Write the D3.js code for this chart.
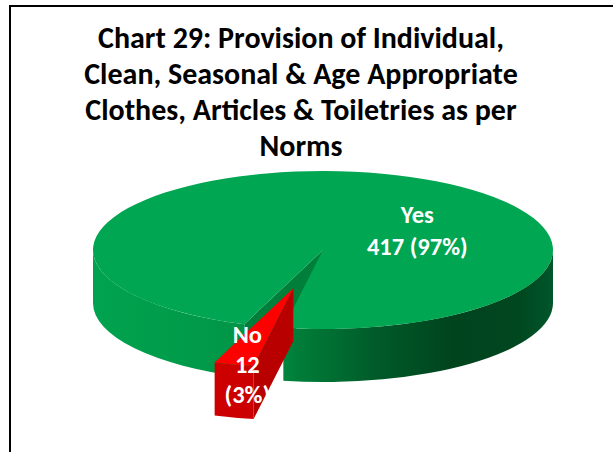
<!DOCTYPE html>
<html>
<head>
<meta charset="utf-8">
<script src="https://cdn.jsdelivr.net/npm/d3@7"></script>
<style>
	html, body { margin: 0; padding: 0; background: #fff; overflow: hidden; }
	text { font-family: Carlito, Calibri, Lato, sans-serif; font-weight: bold; }
</style>
</head>
<body>
<svg id="chart" width="613" height="452"></svg>
<script>
var categories = ['Yes', 'No'];
var counts = [417, 12];
var percents = [97, 3];
var titleLines = [
	'Chart 29: Provision of Individual,',
	'Clean, Seasonal & Age Appropriate',
	'Clothes, Articles & Toiletries as per',
	'Norms'
];

var svg = d3.select('#chart'),
	width = +svg.attr('width'),
	height = +svg.attr('height');

// chart area border (right and bottom edges fall outside the picture)
svg.append('rect')
	.attr('x', 10).attr('y', 6)
	.attr('width', width + 40).attr('height', height + 40)
	.attr('fill', '#fff')
	.attr('stroke', '#000')
	.attr('stroke-width', 2);

var title = svg.append('text')
	.attr('text-anchor', 'middle')
	.attr('font-size', 30)
	.attr('fill', '#000');
titleLines.forEach(function (t, i) {
	title.append('tspan').attr('x', 301).attr('y', 48 + i * 36).text(t);
});

// 3d pie geometry
var cx = 323, cy = 250, rx = 230, ry = 79, depth = 53;
var scaleX = d3.scaleLinear().domain([-1, 1]).range([cx - rx, cx + rx]);
var scaleY = d3.scaleLinear().domain([-1, 1]).range([cy - ry, cy + ry]);

var explode = [0, 0.5];
var topColor = ['#00a651', '#ff0000'];
var cutColor = ['#007f3a', '#b80000'];
var wallFill = ['url(#greenWall)', 'url(#redWall)'];

var defs = svg.append('defs');
function wallGradient(id, stops) {
	var g = defs.append('linearGradient').attr('id', id)
		.attr('gradientUnits', 'userSpaceOnUse')
		.attr('x1', scaleX(-1)).attr('x2', scaleX(1))
		.attr('y1', 0).attr('y2', 0);
	stops.forEach(function (s) {
		g.append('stop').attr('offset', s[0]).attr('stop-color', s[1]);
	});
}
wallGradient('greenWall', [[0, '#00a34f'], [0.28, '#009848'], [0.4, '#008a40'],
	[0.45, '#007c38'], [0.62, '#005a29'], [0.78, '#00441e'], [0.92, '#00461f'], [1, '#00562a']]);
wallGradient('redWall', [[0, '#d40000'], [0.5, '#c80000'], [1, '#a00000']]);

var pie = d3.pie().sort(null)
	.startAngle(-160 * Math.PI / 180)
	.endAngle(200 * Math.PI / 180);
var arcs = pie(counts);

function offset(d, i) {
	var m = (d.startAngle + d.endAngle) / 2, e = explode[i];
	return [scaleX(e * Math.sin(m)) - scaleX(0), scaleY(-e * Math.cos(m)) - scaleY(0)];
}
function pt(a, k, o, z) {
	return [scaleX(k * Math.sin(a)) + o[0], scaleY(-k * Math.cos(a)) + o[1] + z];
}

var layer = svg.append('g');

arcs.forEach(function (d, i) {
	var o = offset(d, i), a0 = d.startAngle, a1 = d.endAngle;
	var g = layer.append('g').attr('class', 'slice-' + categories[i]);

	// cut faces facing the viewer
	[[a0, Math.sin(a0) < 0], [a1, Math.sin(a1) > 0]].forEach(function (f) {
		if (!f[1]) return;
		var c0 = pt(0, 0, o, 0), e0 = pt(f[0], 1, o, 0), e1 = pt(f[0], 1, o, depth), c1 = pt(0, 0, o, depth);
		var p = d3.path();
		p.moveTo(c0[0], c0[1]); p.lineTo(e0[0], e0[1]); p.lineTo(e1[0], e1[1]); p.lineTo(c1[0], c1[1]); p.closePath();
		g.append('path').attr('d', p.toString()).attr('fill', cutColor[i]);
	});

	// outer walls on the front half
	for (var k = -1; k <= 1; k++) {
		var s = Math.max(a0, Math.PI / 2 + 2 * Math.PI * k),
			e = Math.min(a1, 3 * Math.PI / 2 + 2 * Math.PI * k);
		if (e <= s) continue;
		var t0 = pt(s, 1, o, 0), t1 = pt(e, 1, o, 0), b1 = pt(e, 1, o, depth), b0 = pt(s, 1, o, depth);
		g.append('path')
			.attr('d', 'M' + t0 + 'A' + rx + ',' + ry + ' 0 0 1 ' + t1 + 'L' + b1 +
				'A' + rx + ',' + ry + ' 0 0 0 ' + b0 + 'Z')
			.attr('fill', wallFill[i]);
	}

	// top face
	var c = pt(0, 0, o, 0), p0 = pt(a0, 1, o, 0), p1 = pt(a1, 1, o, 0);
	g.append('path')
		.attr('d', 'M' + c + 'L' + p0 + 'A' + rx + ',' + ry + ' 0 ' + (a1 - a0 > Math.PI ? 1 : 0) + ' 1 ' + p1 + 'Z')
		.attr('fill', topColor[i]);
});

// data labels
var labelAt = [[0.41, -0.24], [-0.2, 0.97]];
var labelLines = [
	[categories[0], counts[0] + ' (' + percents[0] + '%)'],
	[categories[1], String(counts[1]), '(' + percents[1] + '%)']
];
arcs.forEach(function (d, i) {
	var o = offset(d, i), lines = labelLines[i], lh = i === 0 ? 32 : 30;
	var x = scaleX(labelAt[i][0]) + o[0], y = scaleY(labelAt[i][1]) + o[1];
	var t = layer.append('text')
		.attr('text-anchor', 'middle')
		.attr('font-size', 24.5)
		.attr('fill', '#fff');
	lines.forEach(function (l, j) {
		t.append('tspan').attr('x', x)
			.attr('y', y + (j - (lines.length - 1) / 2) * lh)
			.attr('dy', '0.33em')
			.text(l);
	});
});
</script>
</body>
</html>
